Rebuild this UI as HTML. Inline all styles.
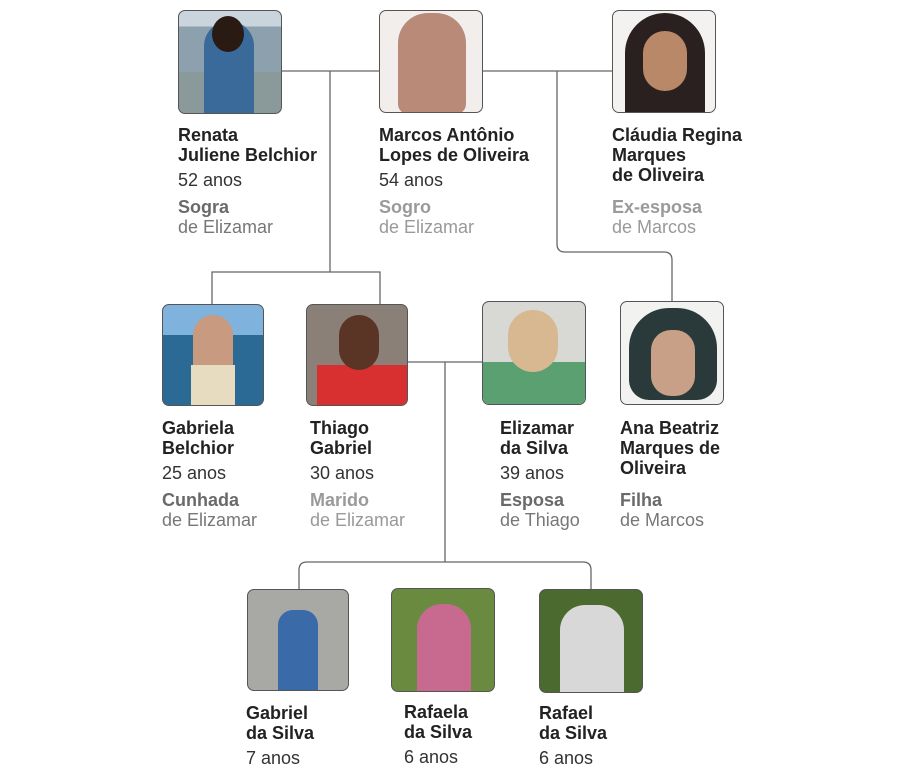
<!DOCTYPE html>
<html><head><meta charset="utf-8"><style>
body{margin:0;width:915px;height:773px;background:#fff;position:relative;overflow:hidden;font-family:"Liberation Sans",sans-serif}
.p{position:absolute;border:1.5px solid #555;border-radius:7px;box-sizing:border-box;overflow:hidden}
.t{position:absolute;white-space:nowrap;line-height:20px;font-size:18px}
.n{font-weight:bold;color:#222}
.a{color:#333}
.r{font-weight:bold;color:#6a6a6a}
.r2{font-weight:bold;color:#9a9a9a}
.d{color:#777}
svg{position:absolute;left:0;top:0}
</style></head><body>
<svg width="915" height="773"><g fill="none" stroke="#666" stroke-width="1.3">
<path d="M282 71H379M483 71H612"/>
<path d="M330 71V272M212 304V272H380V304"/>
<path d="M557 71V244Q557 252 565 252H664Q672 252 672 260V301"/>
<path d="M408 362H482M445 362V562M299 589V570Q299 562 307 562H583Q591 562 591 570V589"/>
</g></svg>

<div class="p" style="left:178px;top:10px;width:104px;height:104px;background:linear-gradient(#c9d4dc 0 15%,#8da0ad 15% 60%,#8a9a9a 60%)"><div style="position:absolute;left:25px;top:10px;width:50px;height:95px;background:#3a6a9a;border-radius:25px 25px 0 0"></div><div style="position:absolute;left:33px;top:5px;width:32px;height:36px;background:#2a1a14;border-radius:50%"></div></div>
<div class="p" style="left:379px;top:10px;width:104px;height:103px;background:#f1eeec"><div style="position:absolute;left:18px;top:2px;width:68px;height:101px;background:#b98a78;border-radius:30px 30px 10px 10px"></div></div>
<div class="p" style="left:612px;top:10px;width:104px;height:103px;background:#f4f2f0"><div style="position:absolute;left:12px;top:2px;width:80px;height:101px;background:#2a2020;border-radius:40px 40px 0 0"></div><div style="position:absolute;left:30px;top:20px;width:44px;height:60px;background:#b88868;border-radius:22px"></div></div>

<div class="p" style="left:162px;top:304px;width:102px;height:102px;background:linear-gradient(#7fb2dc 0 30%,#2c6a96 30%)"><div style="position:absolute;left:30px;top:10px;width:40px;height:95px;background:#c89a80;border-radius:20px 20px 0 0"></div><div style="position:absolute;left:28px;top:60px;width:44px;height:42px;background:#e8dcc0"></div></div>
<div class="p" style="left:306px;top:304px;width:102px;height:102px;background:#8a8078"><div style="position:absolute;left:10px;top:60px;width:92px;height:42px;background:#d83030"></div><div style="position:absolute;left:32px;top:10px;width:40px;height:55px;background:#5a3424;border-radius:20px"></div></div>
<div class="p" style="left:482px;top:301px;width:104px;height:104px;background:#d8d8d4"><div style="position:absolute;left:0;top:60px;width:104px;height:44px;background:#5aa070"></div><div style="position:absolute;left:25px;top:8px;width:50px;height:62px;background:#d8b890;border-radius:25px"></div></div>
<div class="p" style="left:620px;top:301px;width:104px;height:104px;background:#f2f2f0"><div style="position:absolute;left:8px;top:6px;width:88px;height:92px;background:#2a3a3a;border-radius:40px 40px 20px 20px"></div><div style="position:absolute;left:30px;top:28px;width:44px;height:66px;background:#c8a088;border-radius:20px"></div></div>

<div class="p" style="left:247px;top:589px;width:102px;height:102px;background:#a8a8a4"><div style="position:absolute;left:30px;top:20px;width:40px;height:82px;background:#3a6aa8;border-radius:15px 15px 0 0"></div></div>
<div class="p" style="left:391px;top:588px;width:104px;height:104px;background:#6a8a40"><div style="position:absolute;left:25px;top:15px;width:54px;height:89px;background:#c86a90;border-radius:25px 25px 0 0"></div></div>
<div class="p" style="left:539px;top:589px;width:104px;height:104px;background:#4a6a30"><div style="position:absolute;left:20px;top:15px;width:64px;height:89px;background:#d8d8d8;border-radius:25px 25px 0 0"></div></div>

<div class="t" style="left:178px;top:125px"><div class="n">Renata<br>Juliene Belchior</div><div class="a" style="margin-top:5px">52 anos</div><div class="r" style="margin-top:7px">Sogra</div><div class="d">de Elizamar</div></div>
<div class="t" style="left:379px;top:125px"><div class="n">Marcos Antônio<br>Lopes de Oliveira</div><div class="a" style="margin-top:5px">54 anos</div><div class="r2" style="margin-top:7px">Sogro</div><div class="d" style="color:#999">de Elizamar</div></div>
<div class="t" style="left:612px;top:125px"><div class="n">Cláudia Regina<br>Marques<br>de Oliveira</div><div class="r2" style="margin-top:12px">Ex-esposa</div><div class="d" style="color:#999">de Marcos</div></div>

<div class="t" style="left:162px;top:418px"><div class="n">Gabriela<br>Belchior</div><div class="a" style="margin-top:5px">25 anos</div><div class="r" style="margin-top:7px">Cunhada</div><div class="d">de Elizamar</div></div>
<div class="t" style="left:310px;top:418px"><div class="n">Thiago<br>Gabriel</div><div class="a" style="margin-top:5px">30 anos</div><div class="r2" style="margin-top:7px">Marido</div><div class="d" style="color:#999">de Elizamar</div></div>
<div class="t" style="left:500px;top:418px"><div class="n">Elizamar<br>da Silva</div><div class="a" style="margin-top:5px">39 anos</div><div class="r" style="margin-top:7px">Esposa</div><div class="d">de Thiago</div></div>
<div class="t" style="left:620px;top:418px"><div class="n">Ana Beatriz<br>Marques de<br>Oliveira</div><div class="r" style="margin-top:12px">Filha</div><div class="d">de Marcos</div></div>

<div class="t" style="left:246px;top:703px"><div class="n">Gabriel<br>da Silva</div><div class="a" style="margin-top:5px">7 anos</div></div>
<div class="t" style="left:404px;top:702px"><div class="n">Rafaela<br>da Silva</div><div class="a" style="margin-top:5px">6 anos</div></div>
<div class="t" style="left:539px;top:703px"><div class="n">Rafael<br>da Silva</div><div class="a" style="margin-top:5px">6 anos</div></div>
</body></html>
